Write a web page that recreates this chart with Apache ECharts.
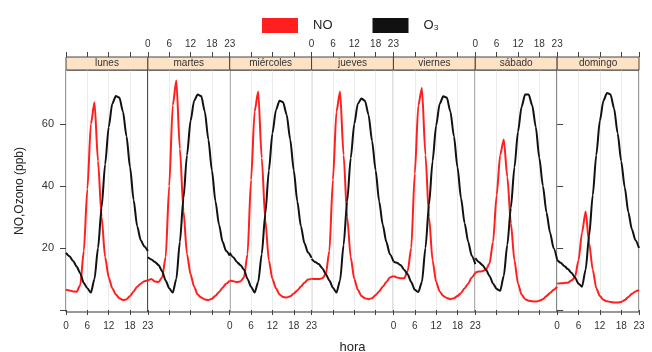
<!DOCTYPE html>
<html>
<head>
<meta charset="utf-8">
<script src="https://cdn.jsdelivr.net/npm/echarts@6/dist/echarts.min.js"></script>
<style>
  html, body { margin: 0; padding: 0; background: #fff; }
  #chart { width: 652px; height: 352px; }
</style>
</head>
<body>
<div id="chart"></div>
<script type="text/javascript">
// datos: medias horarias por dia de la semana
var dias = ['lunes', 'martes', 'miércoles', 'jueves', 'viernes', 'sábado', 'domingo'];
var horas = [0, 1, 2, 3, 4, 5, 6, 7, 8, 9, 10, 11, 12, 13, 14, 15, 16, 17, 18, 19, 20, 21, 22, 23];
var horaTicks = [0, 6, 12, 18, 23];
var yTicks = [0, 20, 40, 60];
var yLabels = [20, 40, 60];

var noLunes     = [6.5, 6.3, 6.0, 5.9, 8, 19, 39, 60, 67, 48, 30, 17, 10.5, 7, 5, 3.8, 3.2, 3.4, 4.5, 6, 7.5, 8.5, 9.3, 9.6];
var noMartes    = [9.5, 10, 9.2, 9, 10.5, 17, 40, 66, 74, 52, 32, 18, 11.5, 7.5, 5, 4, 3.4, 3.2, 3.6, 4.6, 5.8, 7.2, 8.5, 9.5];
var noMiercoles = [9.5, 9.3, 9, 9.2, 10.5, 18, 42, 64, 70.5, 49, 29, 16, 10, 7, 5, 4.2, 4, 4.4, 5.3, 6.3, 7.6, 8.8, 9.8, 10.1];
var noJueves    = [10.1, 10, 10, 10.2, 11.5, 19, 42, 64, 70.5, 50, 30, 17, 10, 6.5, 4.5, 3.8, 3.5, 3.8, 4.8, 6, 7.5, 9, 10.5, 10.9];
var noViernes   = [11, 10.5, 10.2, 10.2, 12.5, 20, 44, 66, 71.6, 50, 30, 16, 9, 6, 4.5, 3.9, 3.5, 3.8, 4.5, 5.5, 7, 8.5, 10.5, 12];
var noSabado    = [12, 12.4, 12.5, 13, 15, 22, 37, 50, 55, 43, 28, 16, 8.5, 5, 3.5, 3, 2.8, 2.7, 3, 3.5, 4.5, 5.5, 6.5, 7.5];
var noDomingo   = [8.5, 8.6, 8.7, 8.8, 9.5, 10.5, 16, 25, 31.8, 21.5, 13, 7, 4.5, 3.3, 2.8, 2.6, 2.4, 2.4, 2.6, 3.2, 4.2, 5.2, 6, 6.5];

var o3Lunes     = [18.4, 17.3, 15.8, 14, 11.8, 8.7, 7, 5.6, 10, 20, 33, 47, 59, 66.5, 69, 68.5, 64, 56, 46, 35.5, 27, 22.5, 20.5, 19];
var o3Martes    = [17, 16.3, 15.5, 14.5, 12.5, 9.5, 7, 5.6, 10, 22, 36, 50, 61, 67.5, 69.5, 69, 64, 55, 45, 35, 27.5, 22, 19, 17.5];
var o3Miercoles = [18.5, 17, 15.5, 14.5, 13, 10, 7.5, 5.6, 9, 18, 31, 45, 57, 64.5, 67.5, 67, 63, 55, 45, 35, 27, 21.5, 18.5, 16.8];
var o3Jueves    = [16.5, 15.5, 14.8, 13.5, 11.5, 9.5, 7.2, 5.6, 9.5, 21, 35, 49, 60, 66.5, 68.2, 67.5, 63, 54.5, 45, 35, 27.5, 22, 18, 15.7];
var o3Viernes   = [15.6, 15.2, 14.5, 13, 11.5, 9, 6.5, 5.8, 9, 20, 34, 48, 59.5, 66.5, 68.9, 68.5, 64, 56, 46, 36, 28, 22, 17.5, 14.8];
var o3Sabado    = [16.7, 15.5, 14.5, 13, 11, 8.5, 6.8, 6.2, 11, 21, 33, 46, 57.5, 65.5, 69.5, 69.5, 66, 59, 49, 40, 31.5, 25, 20, 16.2];
var o3Domingo   = [16.1, 15.2, 14.2, 13.2, 12, 10.5, 8.5, 7.5, 13, 24, 37, 50, 61, 67.5, 70, 69.5, 65, 57, 48, 39.5, 31.5, 26, 22.5, 20];

var noDias = [noLunes, noMartes, noMiercoles, noJueves, noViernes, noSabado, noDomingo];
var o3Dias = [o3Lunes, o3Martes, o3Miercoles, o3Jueves, o3Viernes, o3Sabado, o3Domingo];

// layout
var FONT = 'Liberation Sans, Arial, sans-serif';
var plotLeft = 66, plotRight = 639, plotTop = 70, plotBottom = 312, stripH = 13;
var panelW = (plotRight - plotLeft) / 7;

var dom = document.getElementById('chart');
var myChart = echarts.init(dom);

var grids = [], xAxes = [], yAxes = [], series = [], graphics = [];

function pares(vals) {
	return horas.map(function (h, k) { return [h, vals[k]]; });
}

for (var i = 0; i < 7; i++) {
	grids.push({
		left: plotLeft + i * panelW,
		width: panelW,
		top: plotTop,
		bottom: 352 - plotBottom,
		show: true,
		borderColor: '#333',
		borderWidth: 1,
		containLabel: false,
		outerBoundsMode: 'none'
	});
	// eje inferior
	xAxes.push({
		gridIndex: i,
		type: 'value',
		position: 'bottom',
		min: 0, max: 23, interval: 6,
		name: i === 3 ? 'hora' : '',
		nameLocation: 'middle',
		nameGap: 29,
		nameTextStyle: { fontFamily: FONT, fontSize: 13, color: '#222' },
		axisLine: { show: false },
		axisTick: { show: true, inside: false, length: 5, lineStyle: { color: '#444' }, customValues: horaTicks },
		axisLabel: { show: i % 2 === 0, margin: 9, fontFamily: FONT, fontSize: 10, color: '#333', customValues: horaTicks },
		splitLine: { show: true, lineStyle: { color: '#ebebeb', width: 1 } }
	});
	// eje superior (encima de la tira)
	xAxes.push({
		gridIndex: i,
		type: 'value',
		position: 'top',
		offset: stripH,
		min: 0, max: 23, interval: 6,
		axisLine: { show: false },
		axisTick: { show: true, inside: false, length: 5, lineStyle: { color: '#444' }, customValues: horaTicks },
		axisLabel: { show: i % 2 === 1, margin: 8, fontFamily: FONT, fontSize: 10, color: '#333', customValues: horaTicks },
		splitLine: { show: false }
	});
	var yAx = {
		gridIndex: i,
		type: 'value',
		min: -0.65, max: 77.4,
		axisLine: { show: false },
		splitLine: { show: false },
		axisTick: { show: false },
		axisLabel: { show: false }
	};
	if (i === 0) {
		yAx.position = 'left';
		yAx.axisTick = { show: true, inside: false, length: 6, lineStyle: { color: '#444' }, customValues: yTicks };
		yAx.axisLabel = { show: true, margin: 12, fontFamily: FONT, fontSize: 11, color: '#333', customValues: yLabels };
		yAx.name = 'NO,Ozono (ppb)';
		yAx.nameLocation = 'middle';
		yAx.nameGap = 40;
		yAx.nameTextStyle = { fontFamily: FONT, fontSize: 12, color: '#222' };
	}
	if (i === 6) {
		yAx.position = 'right';
		yAx.axisTick = { show: true, inside: false, length: 6, lineStyle: { color: '#444' }, customValues: yTicks };
	}
	yAxes.push(yAx);

	series.push({
		name: 'NO',
		type: 'line',
		xAxisIndex: 2 * i,
		yAxisIndex: i,
		data: pares(noDias[i]),
		showSymbol: false,
		smooth: 0.25,
		smoothMonotone: 'x',
		lineStyle: { color: '#ff1f1f', width: 2 },
		itemStyle: { color: '#ff1f1f' },
		silent: true
	});
	series.push({
		name: 'O₃',
		type: 'line',
		xAxisIndex: 2 * i,
		yAxisIndex: i,
		data: pares(o3Dias[i]),
		showSymbol: false,
		smooth: 0.25,
		smoothMonotone: 'x',
		lineStyle: { color: '#111', width: 2 },
		itemStyle: { color: '#111' },
		silent: true
	});

	// tira con el nombre del dia
	graphics.push({
		type: 'rect',
		shape: { x: plotLeft + i * panelW, y: plotTop - stripH, width: panelW, height: stripH },
		style: { fill: '#fde2c6', stroke: '#444', lineWidth: 1 },
		z: 10
	});
	graphics.push({
		type: 'text',
		x: plotLeft + i * panelW + panelW / 2,
		y: plotTop - stripH / 2,
		style: { text: dias[i], font: '10px ' + FONT, fill: '#333', align: 'center', verticalAlign: 'middle' },
		z: 11
	});
}

var option = {
	animation: false,
	backgroundColor: '#fff',
	legend: {
		data: ['NO', 'O₃'],
		left: 257,
		top: 13,
		icon: 'rect',
		itemWidth: 36,
		itemHeight: 15,
		itemGap: 40,
		textStyle: { fontFamily: FONT, fontSize: 13, color: '#222', padding: [0, 0, 0, 10] }
	},
	grid: grids,
	xAxis: xAxes,
	yAxis: yAxes,
	series: series,
	graphic: graphics
};

myChart.setOption(option);
</script>
</body>
</html>
